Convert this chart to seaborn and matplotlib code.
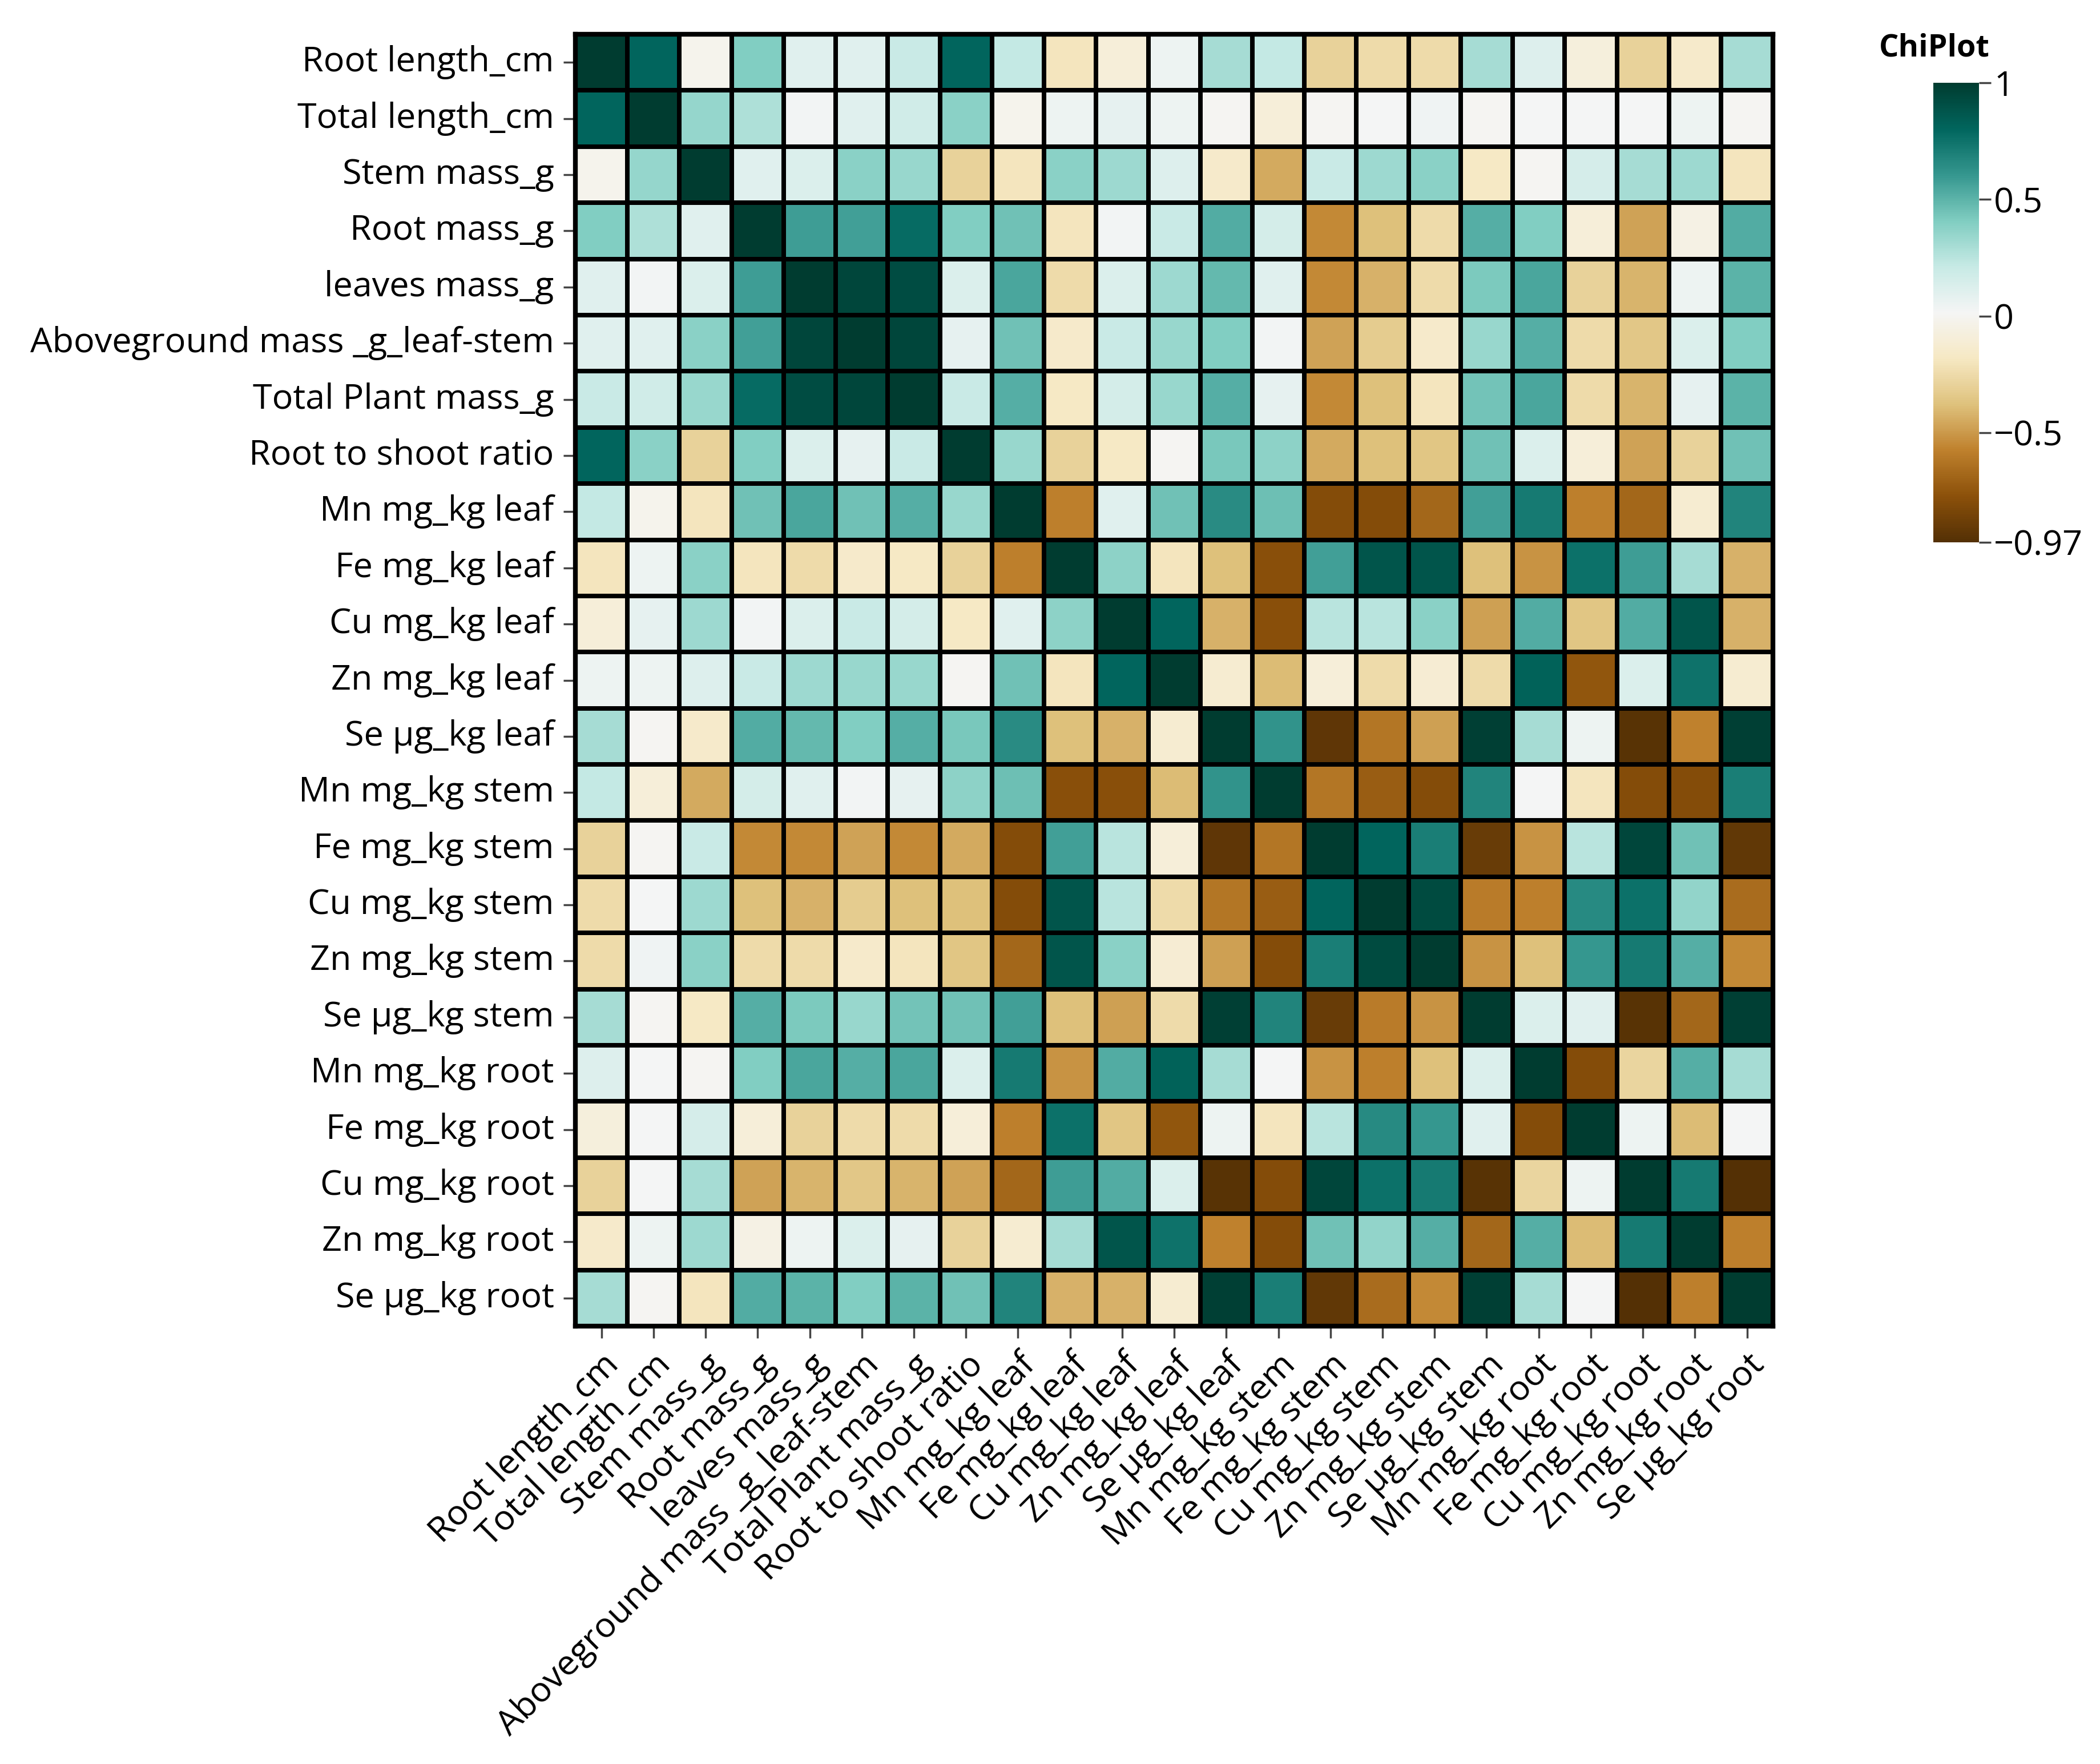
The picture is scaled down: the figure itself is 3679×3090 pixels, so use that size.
import numpy as np
import pandas as pd
import matplotlib
matplotlib.use('Agg')
import matplotlib.pyplot as plt
import seaborn as sns

# === DATA ===
labels = [
    'Root length_cm', 'Total length_cm', 'Stem mass_g', 'Root mass_g',
    'leaves mass_g', 'Aboveground mass _g_leaf-stem', 'Total Plant mass_g',
    'Root to shoot ratio', 'Mn mg_kg leaf', 'Fe mg_kg leaf', 'Cu mg_kg leaf',
    'Zn mg_kg leaf', 'Se µg_kg leaf', 'Mn mg_kg stem', 'Fe mg_kg stem',
    'Cu mg_kg stem', 'Zn mg_kg stem', 'Se µg_kg stem', 'Mn mg_kg root',
    'Fe mg_kg root', 'Cu mg_kg root', 'Zn mg_kg root', 'Se µg_kg root',
]

# lower triangle of the correlation matrix, row by row
lower = [
    [],
    [0.80],
    [-0.02, 0.35],
    [0.40, 0.28, 0.10],
    [0.10, 0.03, 0.13, 0.58],
    [0.10, 0.10, 0.38, 0.57, 0.95],
    [0.20, 0.17, 0.34, 0.78, 0.92, 0.95],
    [0.80, 0.38, -0.30, 0.40, 0.13, 0.08, 0.20],
    [0.22, -0.02, -0.20, 0.45, 0.55, 0.45, 0.52, 0.34],
    [-0.20, 0.05, 0.38, -0.20, -0.25, -0.15, -0.17, -0.30, -0.58],
    [-0.10, 0.08, 0.33, 0.03, 0.13, 0.20, 0.16, -0.17, 0.10, 0.37],
    [0.05, 0.05, 0.12, 0.20, 0.33, 0.34, 0.34, 0.00, 0.45, -0.20, 0.80],
    [0.30, 0.00, -0.15, 0.53, 0.48, 0.40, 0.52, 0.43, 0.65, -0.38, -0.43, -0.13],
    [0.22, -0.10, -0.45, 0.16, 0.10, 0.03, 0.08, 0.37, 0.46, -0.78, -0.78, -0.40, 0.62],
    [-0.30, 0.00, 0.20, -0.55, -0.55, -0.47, -0.55, -0.45, -0.80, 0.57, 0.25, -0.10,
     -0.93, -0.62],
    [-0.25, 0.02, 0.33, -0.38, -0.43, -0.33, -0.38, -0.38, -0.80, 0.88, 0.25, -0.25,
     -0.62, -0.72, 0.80],
    [-0.25, 0.04, 0.38, -0.25, -0.25, -0.15, -0.20, -0.36, -0.68, 0.88, 0.38, -0.12,
     -0.48, -0.80, 0.70, 0.93],
    [0.30, 0.00, -0.17, 0.52, 0.42, 0.34, 0.44, 0.45, 0.57, -0.38, -0.48, -0.25,
     0.98, 0.68, -0.90, -0.60, -0.52],
    [0.12, 0.02, 0.00, 0.40, 0.55, 0.52, 0.55, 0.13, 0.72, -0.52, 0.53, 0.82,
     0.30, 0.02, -0.52, -0.58, -0.38, 0.13],
    [-0.08, 0.02, 0.15, -0.10, -0.30, -0.25, -0.25, -0.10, -0.58, 0.76, -0.36, -0.75,
     0.05, -0.20, 0.25, 0.66, 0.60, 0.10, -0.80],
    [-0.30, 0.02, 0.30, -0.47, -0.42, -0.35, -0.42, -0.47, -0.68, 0.58, 0.53, 0.13,
     -0.95, -0.80, 0.95, 0.76, 0.72, -0.95, -0.28, 0.05],
    [-0.15, 0.05, 0.33, -0.05, 0.05, 0.13, 0.08, -0.30, -0.13, 0.30, 0.88, 0.75,
     -0.57, -0.80, 0.45, 0.36, 0.52, -0.68, 0.52, -0.40, 0.72],
    [0.30, 0.00, -0.20, 0.53, 0.50, 0.40, 0.50, 0.45, 0.68, -0.43, -0.43, -0.13,
     0.98, 0.70, -0.92, -0.66, -0.55, 0.98, 0.30, 0.02, -0.97, -0.58],
]

cbar_ticks = [1, 0.5, 0, -0.5, -0.97]
cbar_ticklabels = ['1', '0.5', '0', '\u22120.5', '\u22120.97']

n = len(labels)
corr = np.eye(n)
for i, row in enumerate(lower):
    for j, v in enumerate(row):
        corr[i, j] = v
        corr[j, i] = v
corr_df = pd.DataFrame(corr, index=labels, columns=labels)

# === PLOT ===
plt.rcParams['font.family'] = ['Open Sans', 'DejaVu Sans']

fig = plt.figure(figsize=(36.79, 30.90), dpi=100)
ax = fig.add_axes([0.274, 0.2482, 0.5703, 0.7324])
cax = fig.add_axes([0.9206, 0.6926, 0.0217, 0.2605])

sns.heatmap(
    corr_df, ax=ax, cbar_ax=cax, cmap='BrBG', vmin=-0.97, vmax=1,
    linewidths=5.5, linecolor='black', square=False
)

ax.tick_params(axis='both', length=15, width=2.5, color='#444444',
               labelsize=44, pad=12)
ax.set_xticklabels(labels, rotation=45, ha='right', rotation_mode='anchor')
ax.set_yticklabels(labels, rotation=0)
ax.set_xlabel('')
ax.set_ylabel('')
for s in ax.spines.values():
    s.set_visible(True)
    s.set_linewidth(6)
    s.set_color('black')

cbar = ax.collections[0].colorbar
cbar.set_ticks(cbar_ticks)
cbar.set_ticklabels(cbar_ticklabels)
cbar.ax.tick_params(length=15, width=2.5, color='#444444', labelsize=44, pad=4)
cbar.outline.set_visible(False)

fig.text(0.921, 0.9725, 'ChiPlot', fontsize=39, fontweight='bold',
         ha='center', va='center')

fig.savefig('out.png', dpi=100)
